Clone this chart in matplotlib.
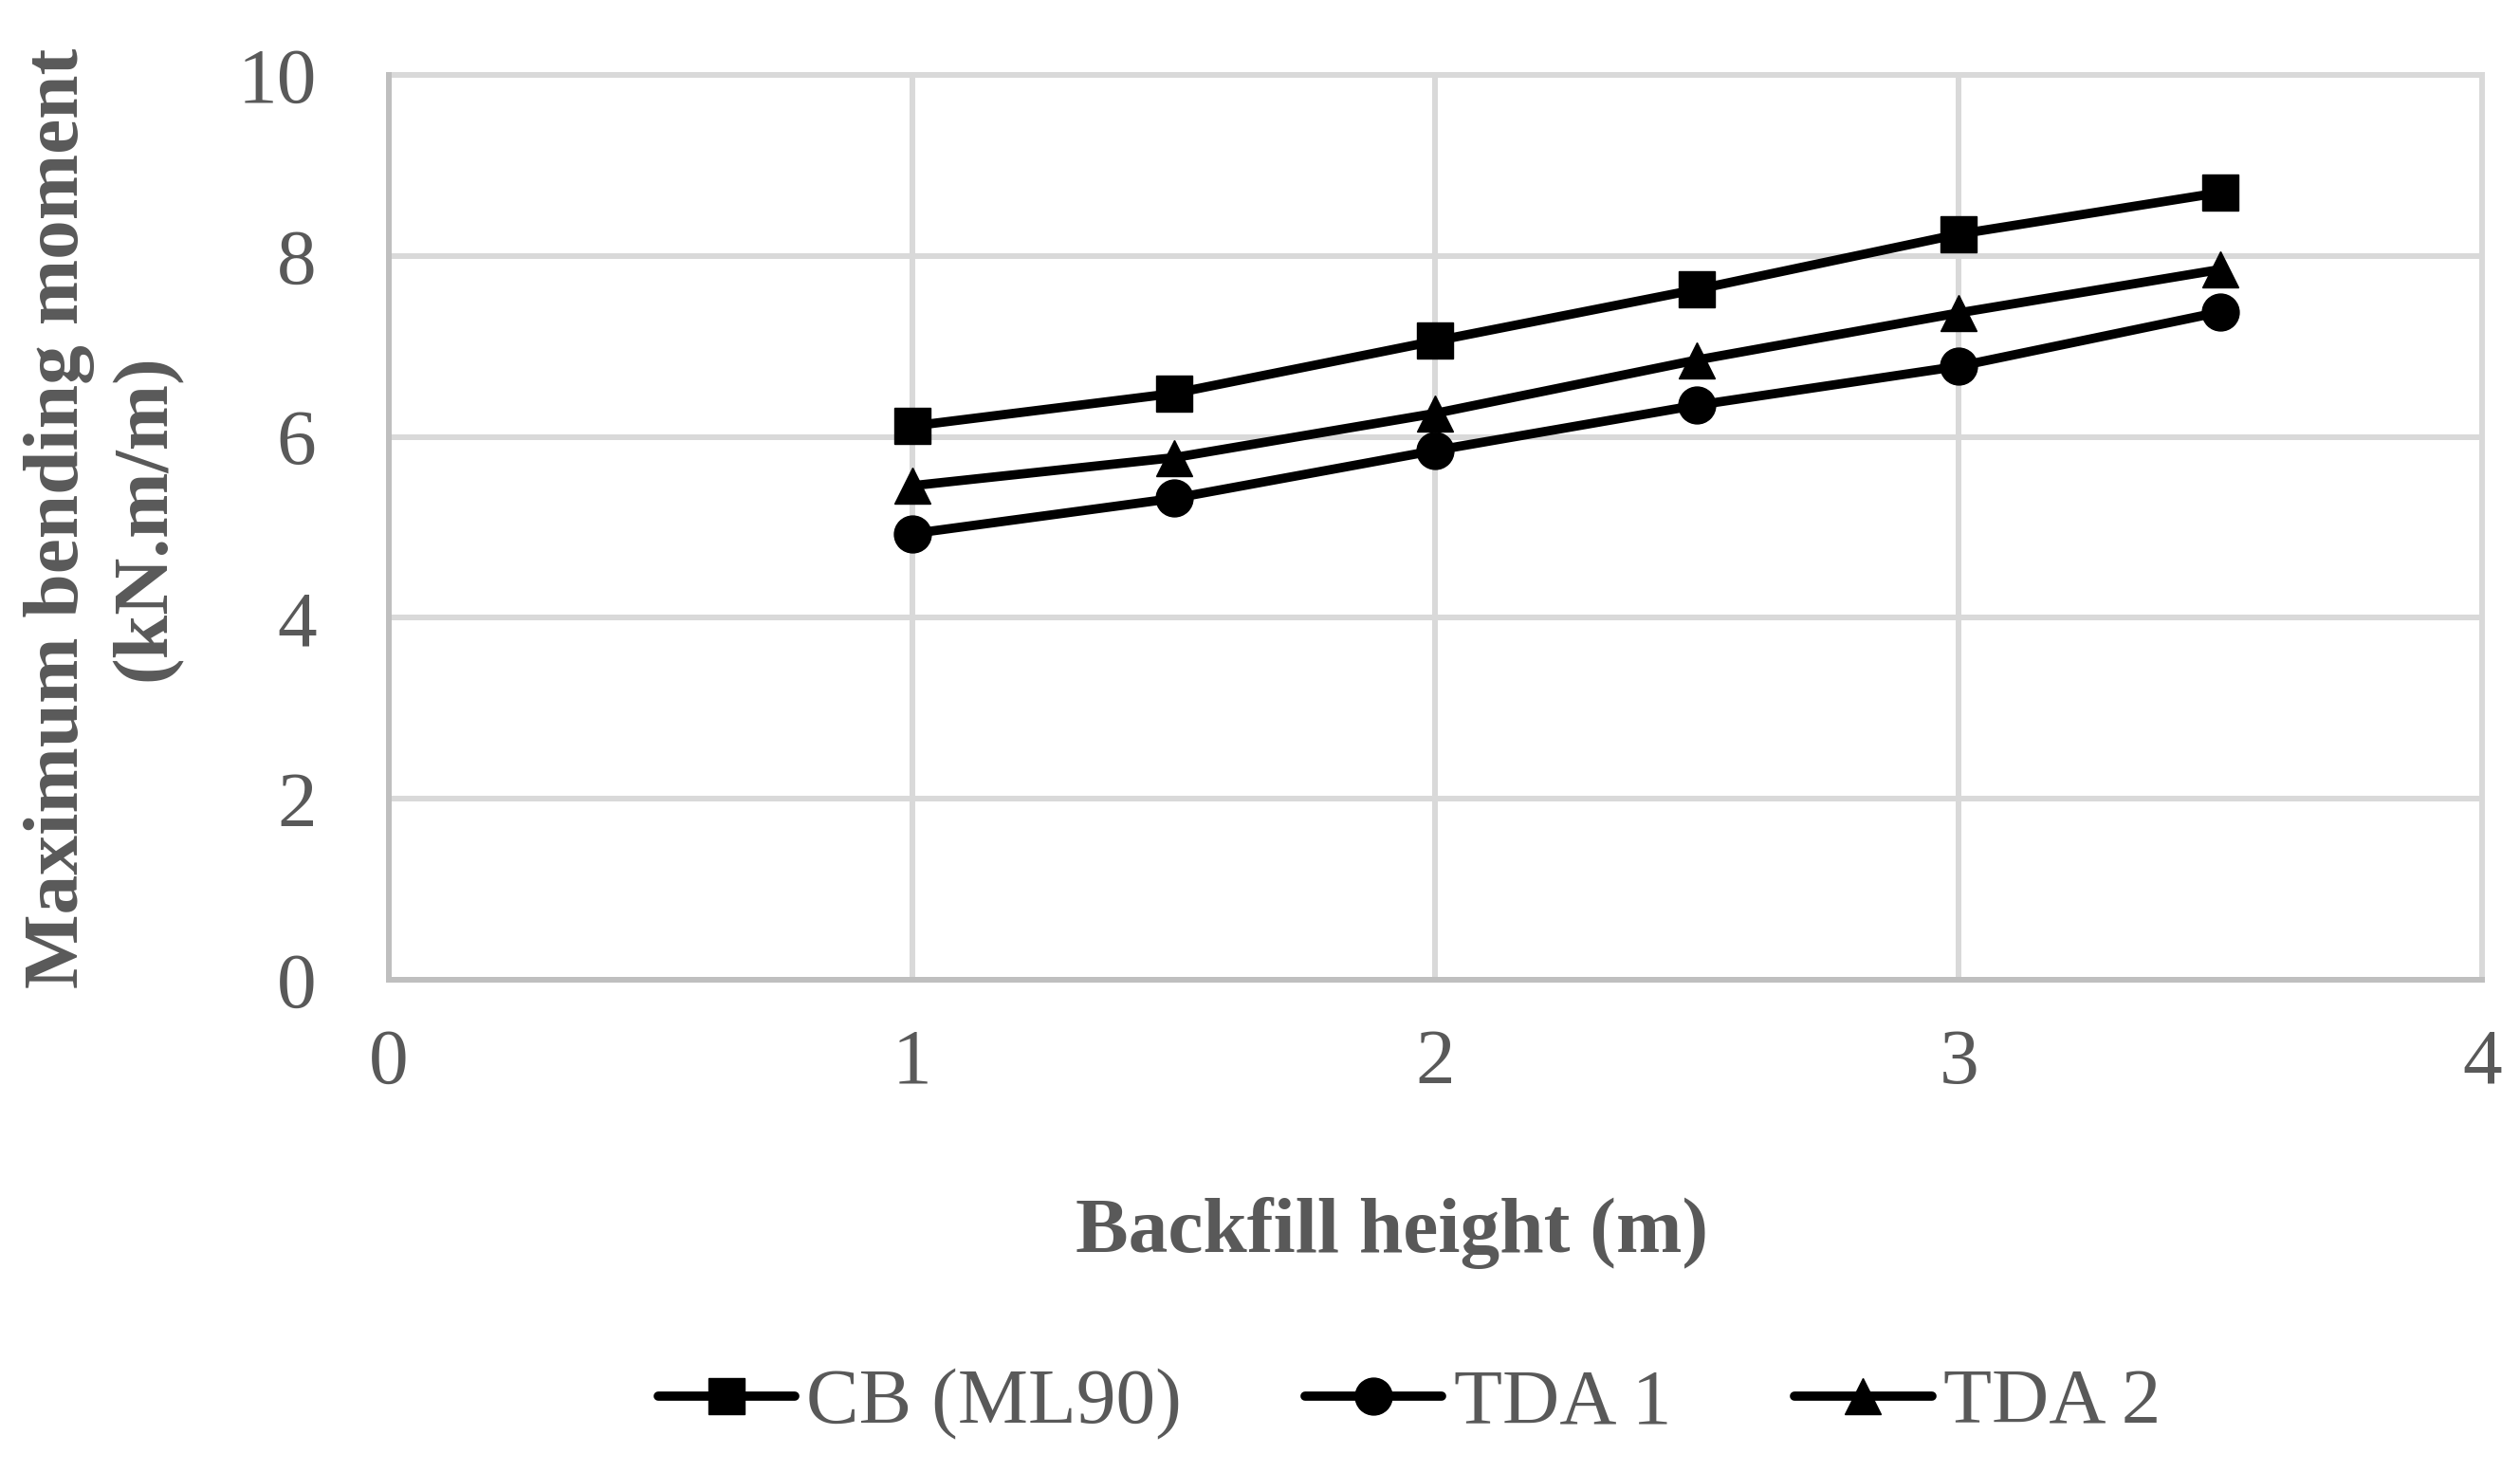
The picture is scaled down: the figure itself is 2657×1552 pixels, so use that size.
import numpy as np
import matplotlib as mpl
import matplotlib.pyplot as plt

mpl.rcParams['font.family'] = ['Liberation Serif', 'DejaVu Serif']

## Data
backfill_height = [1.0, 1.5, 2.0, 2.5, 3.0, 3.5]
cb_ml90 = [6.12, 6.48, 7.06, 7.63, 8.24, 8.70]
tda_1 = [4.93, 5.32, 5.85, 6.35, 6.78, 7.38]
tda_2 = [5.46, 5.77, 6.26, 6.85, 7.37, 7.85]
x_ticks = [0, 1, 2, 3, 4]
y_ticks = [0, 2, 4, 6, 8, 10]

text_grey = '#595959'
grid_grey = '#d9d9d9'
axis_grey = '#bfbfbf'
fs = 60

fig = plt.figure(figsize=(26.57, 15.52), dpi=100)
ax = fig.add_axes([0.1543, 0.3344, 0.8306, 0.6147])

line_kw = dict(color='black', lw=7, markersize=28, markeredgewidth=1,
               solid_capstyle='round', solid_joinstyle='round')
ax.plot(backfill_height, cb_ml90, marker='s', label='CB (ML90)', **line_kw)
ax.plot(backfill_height, tda_1, marker='o', label='TDA 1', **line_kw)
ax.plot(backfill_height, tda_2, marker='^', label='TDA 2', **line_kw)

ax.set_xlim(0, 4)
ax.set_ylim(0, 10)
ax.set_xticks(x_ticks)
ax.set_yticks(y_ticks)
ax.grid(True, color=grid_grey, lw=4.3)
ax.set_axisbelow(True)
for gl in ax.get_xgridlines() + ax.get_ygridlines():
    gl.set_clip_on(False)

for side in ['top', 'right']:
    ax.spines[side].set_visible(False)
for side in ['left', 'bottom']:
    ax.spines[side].set_color(axis_grey)
    ax.spines[side].set_linewidth(4.3)

ax.tick_params(length=0, labelsize=fs, labelcolor=text_grey)
ax.tick_params(axis='x', pad=37)
ax.tick_params(axis='y', pad=55)

ax.set_xlabel('Backfill height (m)', fontsize=fs, fontweight='bold',
              color=text_grey)
ax.xaxis.set_label_coords(0.479, -0.240)
ax.set_ylabel('Maximum bending moment\n(kN.m/m)', fontsize=fs,
              fontweight='bold', color=text_grey, linespacing=1.3)
ax.yaxis.set_label_coords(-0.0988, 0.5105)

leg = fig.legend(loc='center', bbox_to_anchor=(0.5593, 0.046), ncol=3,
                 frameon=False, fontsize=fs, handlelength=1.73,
                 handletextpad=0.15, columnspacing=1.56)
for t in leg.get_texts():
    t.set_color(text_grey)

fig.savefig('out.png', dpi=100)
